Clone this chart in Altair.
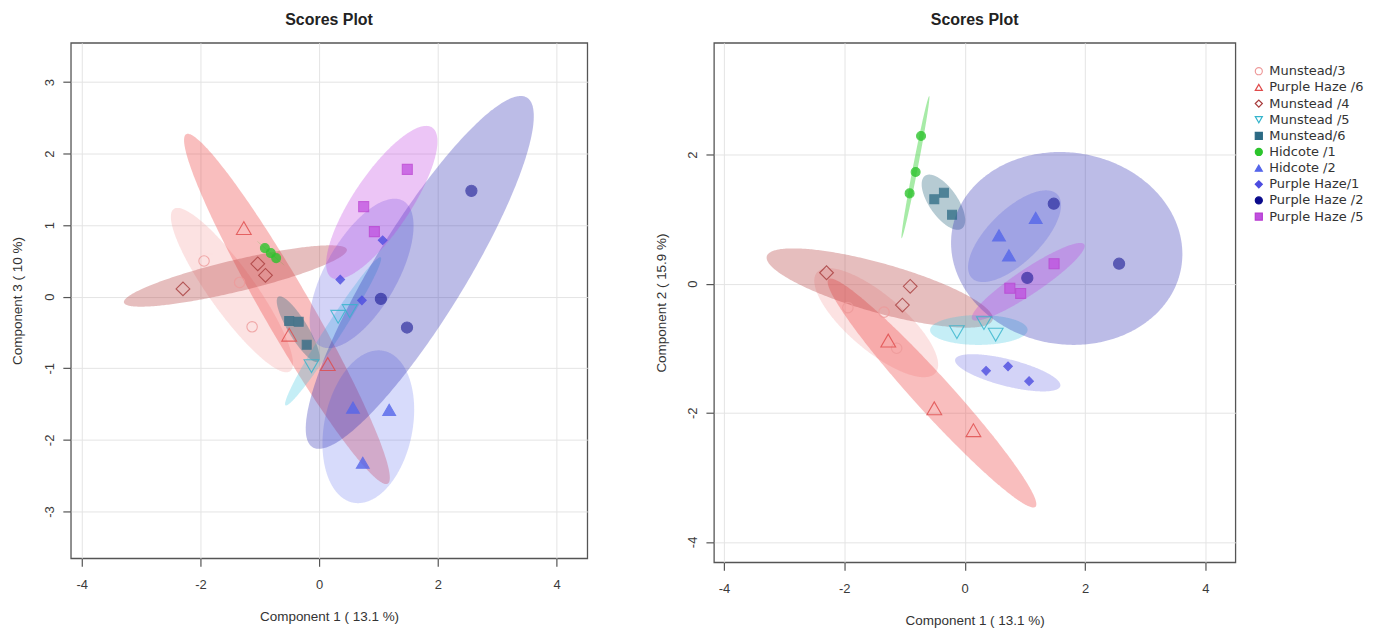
import altair as alt
import numpy as np
import pandas as pd

# ---------------- data ----------------
groups = ["Munstead/3", "Purple Haze /6", "Munstead /4", "Munstead /5", "Munstead/6",
          "Hidcote /1", "Hidcote /2", "Purple Haze/1", "Purple Haze /2", "Purple Haze /5"]

# three samples per group
comp1 = [
    [-1.94, -1.34, -1.13],
    [-1.27, -0.505, 0.145],
    [-2.295, -1.035, -0.905],
    [-0.13, 0.32, 0.515],
    [-0.505, -0.345, -0.21],
    [-0.915, -0.815, -0.725],
    [0.57, 0.735, 1.18],
    [0.355, 0.72, 1.07],
    [2.565, 1.04, 1.48],
    [1.485, 0.75, 0.93],
]
comp2 = [
    [-0.37, -0.44, -1.0],
    [-0.88, -1.93, -2.27],
    [0.17, -0.33, -0.04],
    [-0.75, -0.61, -0.79],
    [1.31, 1.41, 1.07],
    [1.40, 1.73, 2.29],
    [0.75, 0.44, 1.02],
    [-1.35, -1.28, -1.51],
    [0.31, 0.09, 1.24],
    [0.31, -0.07, -0.15],
]
comp3 = [
    [0.50, 0.20, -0.42],
    [0.96, -0.53, -0.94],
    [0.11, 0.46, 0.30],
    [-0.97, -0.28, -0.20],
    [-0.34, -0.35, -0.67],
    [0.68, 0.61, 0.54],
    [-1.55, -2.32, -1.58],
    [0.24, -0.05, 0.79],
    [1.48, -0.03, -0.43],
    [1.78, 1.26, 0.91],
]

x_ticks = [-4, -2, 0, 2, 4]
y3_ticks = [-3, -2, -1, 0, 1, 2, 3]
y2_ticks = [-4, -2, 0, 2]

# ---------------- styles ----------------
point_stroke = ["#EE9A9A", "#E04A4A", "#A83C3C", "#34B4CC", "#2C6A84",
                "#2CC42C", "#5566EA", "#4C4CE0", "#0B0B8C", "#B83CD0"]
point_fill = ["transparent", "transparent", "transparent", "transparent", "#2C6A84",
              "#2CC42C", "#5566EA", "#4C4CE0", "#0B0B8C", "#C050E0"]
point_shape = ["circle", "triangle-up", "diamond", "triangle-down", "square",
               "circle", "triangle-up", "diamond", "circle", "square"]
point_size = [110, 220, 190, 220, 80, 80, 165, 75, 125, 100]
point_opacity = [0.8, 0.8, 0.8, 0.8, 0.75, 0.8, 0.8, 0.8, 0.55, 0.75]

ell_color = ["#F4A0A0", "#EE4444", "#B84444", "#40C8E0", "#2F6A80",
             "#22CC22", "#6070F0", "#5050E0", "#2020B0", "#C040E0"]
ell_opacity = [0.30, 0.35, 0.35, 0.30, 0.35, 0.40, 0.25, 0.25, 0.30, 0.30]

rows = []
for g, a, b, c in zip(groups, comp1, comp2, comp3):
    for i in range(len(a)):
        rows.append({"group": g, "c1": a[i], "c2": b[i], "c3": c[i]})
pts = pd.DataFrame(rows)

K = np.sqrt(-2 * np.log(0.05))  # 95% normal ellipse


def band(xs, ys, n=181):
    x = np.asarray(xs, float)
    y = np.asarray(ys, float)
    cov = np.cov(x, y)
    cx, cy = x.mean(), y.mean()
    sxx, syy, sxy = cov[0, 0], cov[1, 1], cov[0, 1]
    u = -np.cos(np.linspace(0, np.pi, n))
    xv = cx + K * np.sqrt(sxx) * u
    cond = np.sqrt(max(syy - sxy ** 2 / sxx, 0.0))
    half = K * cond * np.sqrt(np.clip(1 - u ** 2, 0, None))
    mid = cy + sxy / sxx * (xv - cx)
    return pd.DataFrame({"x": xv, "lo": mid - half, "hi": mid + half})


FONT = "Liberation Sans"
LBL = "'' + datum.value"


def panel(ycol, ycomp, xdom, ydom, yvals, ytitle, w, h, with_legend):
    xs = alt.Scale(domain=xdom, nice=False, zero=False)
    ys = alt.Scale(domain=ydom, nice=False, zero=False)
    xaxis = alt.Axis(values=x_ticks, title="Component 1 ( 13.1 %)", labelExpr=LBL,
                     labelPadding=12.5, titleX=w / 2, titleY=58, titleBaseline="middle",
                     titleAlign="center")
    yaxis = alt.Axis(values=yvals, title=ytitle, labelExpr=LBL, labelAngle=270,
                     labelAlign="center", labelBaseline="bottom", labelPadding=6.5,
                     titleAngle=270, titleX=-53, titleY=h / 2, titleBaseline="middle",
                     titleAlign="center")
    layers = []
    for g, col, op, a, yv in zip(groups, ell_color, ell_opacity, comp1, ycomp):
        d = band(a, yv)
        layers.append(
            alt.Chart(d).mark_area(color=col, opacity=op, clip=True).encode(
                x=alt.X("x:Q", scale=xs, axis=xaxis),
                y=alt.Y("lo:Q", scale=ys, axis=yaxis),
                y2="hi:Q",
            )
        )
    if with_legend:
        leg = alt.Legend(title=None, orient="none", legendX=w + 17, legendY=22,
                         labelFont="DejaVu Sans", labelFontSize=13, labelColor="#333333",
                         symbolSize=50, symbolStrokeWidth=1.2, rowPadding=2.2,
                         labelOffset=4, padding=0, symbolOpacity=1)
    else:
        leg = None
    for g, sz, op in zip(groups, point_size, point_opacity):
        layers.append(
            alt.Chart(pts).transform_filter(alt.datum.group == g).mark_point(
                size=sz, opacity=op, strokeWidth=1.1, clip=True
            ).encode(
                x=alt.X("c1:Q", scale=xs, axis=xaxis),
                y=alt.Y(f"{ycol}:Q", scale=ys, axis=yaxis),
                fill=alt.Fill("group:N", scale=alt.Scale(domain=groups, range=point_fill), legend=leg),
                stroke=alt.Stroke("group:N", scale=alt.Scale(domain=groups, range=point_stroke), legend=leg),
                shape=alt.Shape("group:N", scale=alt.Scale(domain=groups, range=point_shape), legend=leg),
            )
        )
    return alt.layer(*layers).properties(
        width=w, height=h,
        title=alt.TitleParams("Scores Plot", font=FONT, fontSize=16, fontWeight="bold",
                              color="#222222", offset=14.5, anchor="middle", frame="group"),
    )


left = panel("c3", comp3, [-4.185, 4.518], [-3.655, 3.549], y3_ticks,
             "Component 3 ( 10 %)", 518, 517, False)
right = panel("c2", comp2, [-4.166, 4.497], [-4.316, 3.733], y2_ticks,
              "Component 2 ( 15.9 %)", 523, 521, True)

chart = alt.hconcat(left, right, spacing=65).resolve_scale(
    fill="independent", stroke="independent", shape="independent"
).resolve_legend(
    fill="independent", stroke="independent", shape="independent"
).properties(
    padding={"left": 2, "top": 2, "right": 0, "bottom": 0}
).configure_view(
    stroke="#555555", strokeWidth=1.3
).configure_axis(
    domain=False, grid=True, gridColor="#E4E4E4", gridWidth=1,
    ticks=True, tickColor="#555555", tickSize=8, tickWidth=1.2,
    labelFont=FONT, labelFontSize=13, labelColor="#3A3A3A",
    titleFont=FONT, titleFontSize=13.5, titleFontWeight="normal", titleColor="#333333",
)

chart.save("out.html", embed_options={"renderer": "svg", "actions": False})
